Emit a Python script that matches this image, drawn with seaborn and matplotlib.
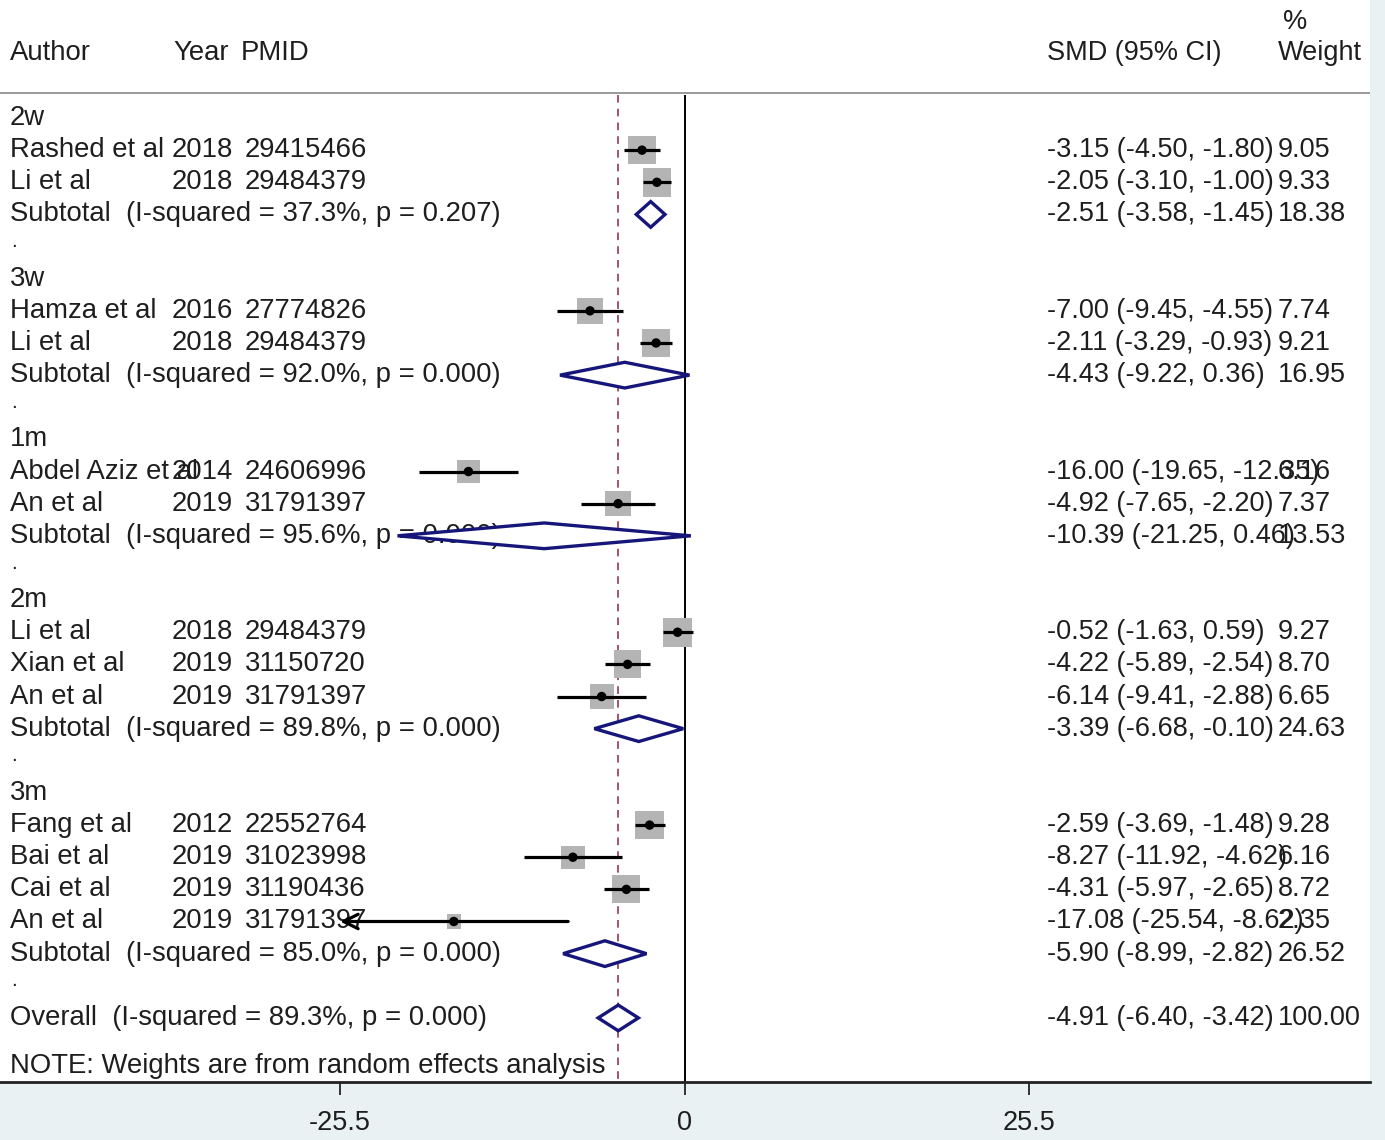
import numpy as np
import pandas as pd
import matplotlib
matplotlib.use("Agg")
import matplotlib.pyplot as plt
from matplotlib.patches import Polygon
import seaborn as sns

# ---- study-level data -------------------------------------------------------
study_group = ["2w", "2w", "3w", "3w", "1m", "1m", "2m", "2m", "2m",
               "3m", "3m", "3m", "3m"]
study_author = ["Rashed et al", "Li et al", "Hamza et al", "Li et al",
                "Abdel Aziz et al", "An et al", "Li et al", "Xian et al",
                "An et al", "Fang et al", "Bai et al", "Cai et al", "An et al"]
study_year = [2018, 2018, 2016, 2018, 2014, 2019, 2018, 2019, 2019,
              2012, 2019, 2019, 2019]
study_pmid = ["29415466", "29484379", "27774826", "29484379", "24606996",
              "31791397", "29484379", "31150720", "31791397", "22552764",
              "31023998", "31190436", "31791397"]
study_smd = [-3.15, -2.05, -7.00, -2.11, -16.00, -4.92, -0.52, -4.22, -6.14,
             -2.59, -8.27, -4.31, -17.08]
study_lo = [-4.50, -3.10, -9.45, -3.29, -19.65, -7.65, -1.63, -5.89, -9.41,
            -3.69, -11.92, -5.97, -25.54]
study_hi = [-1.80, -1.00, -4.55, -0.93, -12.35, -2.20, 0.59, -2.54, -2.88,
            -1.48, -4.62, -2.65, -8.62]
study_weight = [9.05, 9.33, 7.74, 9.21, 6.16, 7.37, 9.27, 8.70, 6.65,
                9.28, 6.16, 8.72, 2.35]

# ---- subgroup pooled estimates ----------------------------------------------
sub_group = ["2w", "3w", "1m", "2m", "3m"]
sub_i2 = [37.3, 92.0, 95.6, 89.8, 85.0]
sub_p = ["0.207", "0.000", "0.000", "0.000", "0.000"]
sub_smd = [-2.51, -4.43, -10.39, -3.39, -5.90]
sub_lo = [-3.58, -9.22, -21.25, -6.68, -8.99]
sub_hi = [-1.45, 0.36, 0.46, -0.10, -2.82]
sub_weight = [18.38, 16.95, 13.53, 24.63, 26.52]

# ---- overall pooled estimate ------------------------------------------------
overall_i2 = 89.3
overall_p = "0.000"
overall_smd = -4.91
overall_lo = -6.40
overall_hi = -3.42
overall_weight = 100.00

# ---- x axis ------------------------------------------------------------------
tick_values = [-25.5, 0, 25.5]
tick_labels = ["-25.5", "0", "25.5"]

# ---- styling -----------------------------------------------------------------
sns.set_theme(style="white")
plt.rcParams["font.family"] = ["Liberation Sans", "DejaVu Sans"]

BG = "#eaf1f3"
TXT = "#1e1e1e"
NAVY = "#16167a"
BOX = "#b4b4b4"
FS = 19.8

W, H = 1385, 1140
PX = 13.51           # pixels per SMD unit
X0 = 684.6           # pixel of SMD = 0
ROW0, ROWH = 118.0, 32.14


def xd(px):
    return (px - X0) / PX


AX_LO, AX_HI = tick_values[0], tick_values[-1]

# ---- row layout --------------------------------------------------------------
df = pd.DataFrame(dict(group=study_group, author=study_author, year=study_year,
                       pmid=study_pmid, smd=study_smd, lo=study_lo,
                       hi=study_hi, weight=study_weight))
sub = pd.DataFrame(dict(group=sub_group, i2=sub_i2, p=sub_p, smd=sub_smd,
                        lo=sub_lo, hi=sub_hi, weight=sub_weight))

row = 0
group_rows, study_rows, sub_rows, dot_rows = [], [], [], []
for g in sub_group:
    group_rows.append(row)
    row += 1
    for _ in range((df.group == g).sum()):
        study_rows.append(row)
        row += 1
    sub_rows.append(row)
    row += 1
    dot_rows.append(row)
    row += 1
overall_row = row
note_row = overall_row + 1.5
df["row"] = study_rows
sub["row"] = sub_rows

# ---- figure ------------------------------------------------------------------
fig = plt.figure(figsize=(W / 100, H / 100), dpi=100, facecolor=BG)
axis_px = 1082
ax = fig.add_axes([0, (H - axis_px) / H, 1370 / W, axis_px / H])
ax.set_facecolor("white")
ax.set_xlim(xd(0), xd(1370))
ax.set_ylim((axis_px - ROW0) / ROWH, -ROW0 / ROWH)

sep_row = (93 - ROW0) / ROWH
ax.axhline(sep_row, color="#9a9a9a", lw=1.4, zorder=1)
ax.vlines(0, sep_row + 0.06, (axis_px - ROW0) / ROWH, color="black",
          lw=1.4, zorder=1)
ax.vlines(overall_smd, sep_row + 0.06, (axis_px - ROW0) / ROWH,
          color="#8a2840", lw=1.1, linestyles=(0, (5, 4)), zorder=1)

# ---- text columns --------------------------------------------------------------
x_author, x_year, x_pmid = xd(10), xd(172), xd(245)
x_smd, x_wt = xd(1047), xd(1278)
hdr_row = (53 - ROW0) / ROWH
pct_row = (22 - ROW0) / ROWH


def put(x, y, s, fs=FS, **kw):
    ax.text(x, y, s, fontsize=fs, color=TXT, va="center", ha="left",
            zorder=2, **kw)


put(x_author, hdr_row, "Author")
put(xd(173), hdr_row, "Year")
put(xd(241), hdr_row, "PMID")
put(x_smd, hdr_row, "SMD (95% CI)", fs=19.5)
put(xd(1283), pct_row, "%", fs=19.5)
put(x_wt, hdr_row, "Weight", fs=19.5)

for g, r in zip(sub_group, group_rows):
    put(x_author, r, g)
for r in dot_rows:
    put(x_author + 0.1, r - 0.15, ".", fs=15)

for _, s in df.iterrows():
    put(x_author, s.row, s.author)
    put(x_year, s.row, str(s.year))
    put(x_pmid, s.row, s.pmid)
    put(x_smd, s.row, f"{s.smd:.2f} ({s.lo:.2f}, {s.hi:.2f})", fs=19.5)
    put(x_wt, s.row, f"{s.weight:.2f}", fs=19.5)

for _, s in sub.iterrows():
    put(x_author, s.row,
        f"Subtotal  (I-squared = {s.i2:.1f}%, p = {s.p})")
    put(x_smd, s.row, f"{s.smd:.2f} ({s.lo:.2f}, {s.hi:.2f})", fs=19.5)
    put(x_wt, s.row, f"{s.weight:.2f}", fs=19.5)

put(x_author, overall_row,
    f"Overall  (I-squared = {overall_i2:.1f}%, p = {overall_p})")
put(x_smd, overall_row,
    f"{overall_smd:.2f} ({overall_lo:.2f}, {overall_hi:.2f})", fs=19.5)
put(x_wt, overall_row, f"{overall_weight:.2f}", fs=19.5)
put(x_author, note_row, "NOTE: Weights are from random effects analysis")

# ---- study markers ---------------------------------------------------------------
K = 46.0   # marker area (pt^2) per percent weight
sns.scatterplot(data=df, x="smd", y="row", size="weight",
                sizes=(K * df.weight.min(), K * df.weight.max()),
                marker="s", color=BOX, edgecolor="none", linewidth=0,
                legend=False, ax=ax, zorder=3)

inside = df[df.lo >= AX_LO]
ax.hlines(inside.row, inside.lo, np.minimum(inside.hi, AX_HI),
          color="black", lw=2.3, zorder=4)
for _, s in df[df.lo < AX_LO].iterrows():
    ax.annotate("", xy=(AX_LO, s.row), xytext=(s.hi, s.row),
                arrowprops=dict(arrowstyle="->", color="black", lw=2.3,
                                mutation_scale=26, shrinkA=0, shrinkB=0),
                zorder=4)

sns.scatterplot(data=df, x="smd", y="row", color="black", s=46,
                marker="o", edgecolor="none", legend=False, ax=ax, zorder=5)

# ---- pooled diamonds ---------------------------------------------------------------
HALF = 0.40
pooled = list(zip(sub.lo, sub.smd, sub.hi, sub.row)) + \
    [(overall_lo, overall_smd, overall_hi, overall_row)]
for lo, est, hi, r in pooled:
    ax.add_patch(Polygon([(lo, r), (est, r - HALF), (hi, r), (est, r + HALF)],
                         closed=True, facecolor="white", edgecolor=NAVY,
                         lw=2.4, zorder=6))

# ---- axis -------------------------------------------------------------------------
for side in ["left", "right", "top"]:
    ax.spines[side].set_visible(False)
ax.spines["bottom"].set_color("#222222")
ax.spines["bottom"].set_linewidth(2.0)
ax.set_yticks([])
ax.set_xticks(tick_values)
ax.set_xticklabels(tick_labels)
ax.tick_params(axis="x", direction="out", length=9, width=1.3,
               color="#222222", pad=11, labelsize=19.5, labelcolor=TXT,
               bottom=True)
ax.set_xlabel("")
ax.set_ylabel("")

fig.savefig("out.png", dpi=100, facecolor=BG)
